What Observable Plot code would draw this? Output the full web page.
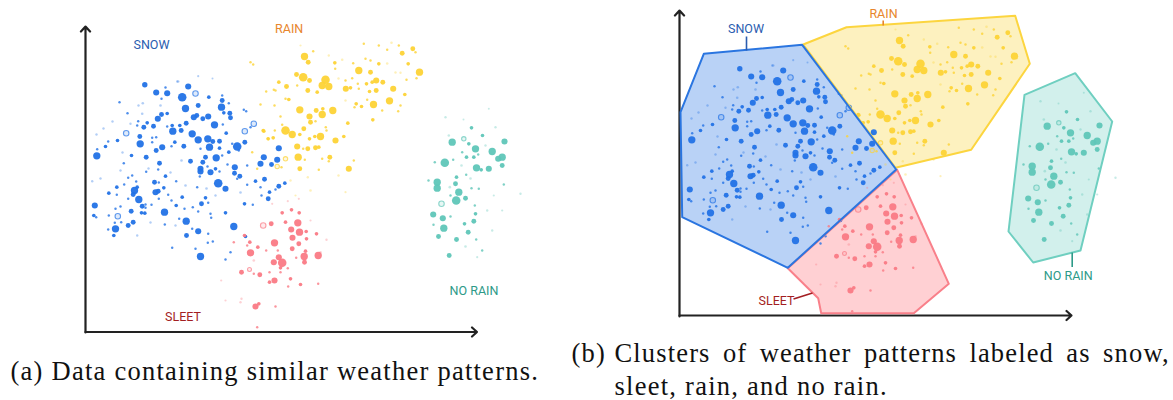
<!DOCTYPE html>
<html><head><meta charset="utf-8">
<script src="https://cdn.jsdelivr.net/npm/d3@7"></script>
<script src="https://cdn.jsdelivr.net/npm/@observablehq/plot@0.6"></script>
<style>
html,body{margin:0;padding:0;background:#fff}
.cap text{letter-spacing:1.25px}
.capb text{word-spacing:4.6px;letter-spacing:1.15px}
</style></head><body><div id="c"></div>
<script>
// [x, y, magnitude]: magnitude below 1 = faint specks
const snow = [[155.7,92,2.5],[166.7,92.7,2.5],[181.7,96.7,3.5],[187.7,86,2.5],[185,108,3],[119,101.7,1],[127,112.7,1],[161,114,2],[157.3,118.3,2.5],[166.7,113,1.5],[143.3,126.7,2],[153,125.7,2],[137.7,120.7,1],[146.7,122.3,1.5],[117,140,1.5],[107.7,141,1],[96.7,148.7,1],[105,146,1.5],[96.3,155.3,3],[139.7,143.3,3],[139.3,136,2],[151.7,137.3,1],[151.7,141.7,1],[155.7,136.7,1],[161.7,146.7,2.5],[155.7,150,2],[172.3,130.7,3],[180.7,130,2],[166.7,126,1],[171.7,125,1.5],[179.3,125,1.5],[185.7,122.7,2],[174.3,141.7,1.5],[183.3,145.7,2],[171,145.7,1],[191.7,133.3,3],[193.3,116.7,2.5],[190,160.7,2],[159,162.7,2],[145.7,156.7,2],[131,155,1.5],[123.3,162.7,1],[157.7,169,1],[142.3,102.7,.9],[138,105,.8],[160,105,.9],[141.7,113.3,.9],[130,123.3,.8],[136.7,125,1],[165,87,1],[161,98.3,1],[176.7,81,.8],[144.3,84.3,2.2],[177.7,81,.9],[197.7,75.7,.7],[212,78,.6],
[208.3,96.7,1.5],[221.7,95,1],[228.3,102.7,1],[221,106.7,3],[197.7,105,2],[196.3,115,2],[202.3,118.3,2],[207.7,116,2.5],[223.3,112.3,1.5],[229.3,112.7,2],[243.3,109.3,1],[245.7,110.7,1],[214,124.3,3],[222.3,124,1],[250,126.7,1],[197.7,139.3,3],[207.3,138.3,3],[212.3,141,2],[219,140.7,2],[225.7,132.7,1.5],[209,146.7,3],[236.7,146,3.5],[244.3,141.7,2],[231.7,143.3,1],[219,147.7,1.5],[200,148.3,1],[228.3,151.7,1.5],[215.7,157.3,3],[205,156.7,2],[202.3,161.7,2],[221.7,155,1],[238.3,150,1],[263.3,156.7,2.5],[278.3,147.7,2.5],[260,163.3,2.5],[271,164,2],[276.7,159.3,2.5],[234.3,166.7,2.5],[200,168.3,2.5],[215,168.3,1.5],[227,164,1],[246.7,165,1],[207,166,1],[230,117.3,2],[221.7,100,2],
[94.3,205,2.5],[93.3,215,1.5],[95.7,216.7,1],[108.3,192.7,1.5],[116.3,186.7,1.5],[116.3,194.3,1],[91.7,180.7,.8],[131.7,175,1],[127.7,177.3,1],[145.7,171.3,1],[165,175.7,1.5],[135.7,181,1],[123.7,184,1],[134,190,3],[132.7,194,2],[136.7,186.7,1.5],[138.3,199,3],[127.7,198.3,1],[154,181.7,2],[158.3,182,1],[163.3,187.3,1.5],[155,191.7,2.5],[157.7,190.7,2],[167.7,194.3,1],[158.3,198.3,1],[151,204.3,1],[141.7,205.7,2],[145,204,1],[145,207.3,1],[130.7,210.7,2],[141,212.3,1.5],[144.3,212.7,1.5],[164,211.7,3],[108.3,215,1],[115,208.3,1],[120,206,1],[120.7,221.7,1],[114.3,222.3,1],[132.7,221.7,2],[127.7,225,2],[115,228.3,3],[107.7,229,1],[113.3,235,1.5],[178.7,218.3,1],[185.7,220.7,3],[164.3,224,1],[186,235,2],[171.7,247.3,1],[175.7,180.7,1],[181.7,196.7,1.5],[171,200,1],[175.7,205,1.5],[184,208.3,1],[192.3,206.7,1],[191.7,228.3,1],[136.7,235,.8],[195,248.3,1],
[200,171,2.5],[210,171.7,2.5],[219,171,1],[234,172.7,2],[239.3,175.7,2],[199.3,176,1],[217.7,182.7,3.5],[225,188.3,2.5],[196.7,186.7,1],[236.7,178.3,1],[255,180.7,1.5],[264,178.7,2],[246.7,184.3,1],[260,186.7,1],[278.3,185.7,2],[284.3,182.7,1.5],[269,191.7,1.5],[275,189,1],[267.7,198.3,2],[261,195,1],[205,197.3,1.5],[201,203.3,2],[207.7,202.3,1],[197.7,211,1],[244,203.3,1.5],[252.3,204.3,1],[210,213.3,1],[210.7,217.3,1],[225,212.3,1.5],[233.3,226,3],[197.7,230.7,2.5],[207.7,233.3,1],[212.3,241,1],[207.3,242.3,1],[200,256,3],[230,251.7,1],[225,259,1],[245,236,1.5],[96,134,.8],[103,128,.8],[112,121,.8],[122,152,.8],[148,168,.8],[181,160,.9],[170,172,.8],[100,178,.8],[185,185,.9],[206,188,.9],[120,170,.8],[215,195,.8],[240,192,.9],[175,225,.8],[150,222,.8]];
const snowRings = [[125.7,132.7,2.5],[195,93,2.5],[117.3,215.7,2.5],[244.3,130.7,2.5],[253.3,123.3,2.5]];
const rain = [[304,56,3],[307.7,61.7,2],[312.7,50.7,1],[334.3,62.3,1.5],[334.7,68.3,1],[296,74,2],[302.7,76.7,3.5],[309,80,2],[325,79.3,3.5],[321.7,85,3],[328.3,86,3],[307.3,90,2],[316.7,91.7,1.5],[286,86,2],[278.3,81.7,1.5],[275,90,1],[288.3,99,1.5],[285,98.3,1],[260,104,1],[274,105,1],[299.3,109.3,3],[309,116,2.5],[315.7,110,2],[321.7,114,3],[322.3,108.3,1.5],[332.3,110,3],[285,130,3.5],[291.7,134,3],[303.3,128.3,2],[310,121.7,2],[315,120.7,1],[280,116,1],[281.7,124.3,1],[262.7,130,1.5],[272.7,137.3,1.5],[267.3,138.3,1],[299.3,134,1.5],[320,136,3],[314.3,136,1.5],[309,138.3,1.5],[326,130,1],[335,140,2.5],[343.3,136,1.5],[347.3,122.7,1.5],[307.3,148.3,2],[296.7,146,2.5],[315,147.3,2],[318.3,146.7,1.5],[302.7,148.3,1],[297.7,156.7,3],[329.3,156.7,2],[321.7,158.3,1],[304.3,159.3,1],[299.3,168.3,2],[348.3,168.3,2.5],[353.3,160,1],[328.3,160.7,1],[318.3,169.3,1],[307.3,176.7,.8],[310,190,.9],[345,191.7,.7],[325.3,126.7,1],
[363.3,43.3,1],[378.3,45,1],[391,42.3,.9],[398.3,45,1],[412.3,48.3,2],[401.7,52.7,2],[415,51.7,1],[386.7,49.3,1],[352.7,62.7,1],[365,58.3,1],[370,60,1],[378.3,63.3,1.5],[358.3,70,3],[370,71.7,2],[407.7,63.3,1.5],[419,71.7,3],[416,77.7,1],[406,79.3,1],[345,80,1],[345.3,88.3,2.5],[351.7,77.7,1],[350,87.3,1.5],[357.3,83.3,1],[366,83.3,1.5],[375.7,80,2.5],[371.7,81.7,1.5],[382.3,81.7,2],[392.7,88.3,2.5],[375.7,90,2],[369,91,1.5],[358.3,88.3,1],[404.3,94,1.5],[366.7,99.3,1],[389,100.3,3],[373,104,3],[354,106.7,1],[355.7,103.3,1.5],[361,106,1.5],[381.7,110,1],[400,105,1],[397.7,110.7,1],[372.3,119.3,1.5],[250,61.7,1],[252.7,64,1],[328.3,55,.8],[341.7,59.3,.9],[386.7,63,.9],[400,72.3,.8],[273.3,89.3,1],[265.7,91,1],[296.7,85,1],[263.3,130.7,1.5],[274.3,130,1],[267.7,138.3,1.5],[251.7,151.7,1],[256.7,168.3,1],[281,166.7,1],[295,195,.7],[290,180,.8],[338,175,.8],[300,45,.7],[345,100,.8],[338,78,.8],[395,72,.8]];
const rainRings = [[276.7,166,2],[285,158.3,2]];
const sleet = [[297.3,222.3,3],[299,231.7,3],[290.7,229,2.5],[270.7,223.3,2],[285,221.7,1.5],[281.7,212.3,1.5],[291,209.3,1.5],[298.7,212.3,1.5],[305.7,231,1.5],[316,233.3,1.5],[292,237.3,2.5],[306,238.3,1.5],[298.3,243.3,2],[274,242.3,3],[249.3,241.7,1.5],[244,235,1.5],[233.3,241.7,1],[250,252.3,3],[257.3,246.7,1.5],[265.7,250,1],[246.7,245,1],[277.3,250,1],[291.7,248.3,2],[305,250.7,1.5],[303.7,256,3],[317.7,255,3],[304,261.7,2],[281.7,262.3,3.5],[278.3,256.7,2.5],[273.3,261.7,2.5],[253.3,260,.95],[295.7,257.3,1],[280,267.3,1.5],[287.3,267.7,1],[241,271.7,2],[259.3,274.3,2],[253.3,273.3,1],[269,271.7,1],[274,280,2.5],[269,281.7,1.5],[290,278.3,1.5],[280,271.7,1],[300,284,1.5],[317.7,283.3,1],[287.7,286,1],[255,306,2.5],[258.3,303.3,1.5],[275,306,1],[241,298.3,.8],[240,301.7,.8],[256.7,326.7,1],[220.7,280,.7],[225,300,.7],[326,239.3,.8],[310,220,.7],[320,251.7,.9],[287.3,200.7,.7],[271.7,203.3,.7],[298.3,198.3,.7]];
const sleetRings = [[249,269,1.8],[262.7,225,2.5]];
const noRain = [[448.7,255,2],[451.7,141.7,3],[471,127.3,1.5],[482,135,1.5],[444.3,162.3,3.5],[434.3,161.7,1],[428,180,1],[436.7,181.7,3],[436.7,187.7,3],[455.7,200,3.5],[458.3,191.7,3],[465,197.7,2],[455,183.3,2],[456,176.7,1.5],[461.7,151.7,1],[468.3,143.3,1.5],[475,148.3,3],[477.7,154,1],[473.3,156.7,1.5],[491.7,151,3],[504,141,2.5],[501.7,156.7,3],[497.7,158.3,2.5],[501.7,165,2],[488.3,168.3,2.5],[476,167.3,3],[480.7,169.3,1.5],[466,156.7,1.5],[452.7,159.3,1],[465.7,174.3,1],[471,187.7,1],[478.3,188.3,1],[450,195,1],[474.3,205,1],[475,213.3,1.5],[432.7,214,2.5],[442.3,217.7,2.5],[450,216,1],[443.3,227.7,3],[433,224.3,1],[464,223.3,1.5],[473.3,220.7,2],[467.7,231.7,2],[438,236,2],[456,239,2],[475.7,239,1],[465,246,.9],[481.7,250,1],[503.3,184,1],[486.7,210,.8],[491.7,230,.8],[495,126.7,.8],[445,116.7,.8],[448.3,135,.9],[488.3,108.3,.6],[493.3,195,.7],[501.7,210,.7],[520,193.3,.8],[476.7,256.7,.7],[449.3,186.7,.95],[463,119,.6],[485,145,.8],[461,165,.9],[470,178,.9]];
const noRainRings = [[441,203.3,2.5],[463.3,138.3,2]];

const series = [
  ["SNOW", snow, snowRings, "#2272e6", "#2a75e0", "#b9d2f6", "#2a5db0"],
  ["RAIN", rain, rainRings, "#fdd336", "#fcd53f", "#fdf1bf", "#e8862c"],
  ["SLEET", sleet, sleetRings, "#fa7a85", "#f9808a", "#ffd0d3", "#a31e22"],
  ["NO RAIN", noRain, noRainRings, "#5fc6b8", "#6fcfc0", "#d2f0ec", "#2d9a88"]
];
// cluster outlines in panel (b)
const hulls = {
  "SLEET": [[896.7,169.3],[948.3,283.3],[913.3,312.7],[820.7,312.7],[817.7,297.7],[787.3,267.7]],
  "NO RAIN": [[1074.7,72.7],[1111.7,121],[1080,250],[1032.7,262],[1008,231],[1024,94.3]],
  "RAIN": [[802.7,44],[846,26.7],[1014.7,15.3],[1029.3,63.3],[970.7,149.3],[895,167.3]],
  "SNOW": [[703.3,53.3],[801.7,44.3],[895.7,169],[787.3,267.3],[681.7,216.7],[680,111.7]]
};
const leaders = [["SNOW",746,36,746,50],["RAIN",882.7,20,882.7,25],["NO RAIN",1071.7,252,1071.7,266.5],["SLEET",793,298.5,812,292.5]];
const labels = [["SNOW",151,44.5],["RAIN",288.7,28.5],["SLEET",182.5,316],["NO RAIN",473.5,290.5],["SNOW",745.5,28.5],["RAIN",883,13],["SLEET",776,300],["NO RAIN",1067.7,275]];
const axes = [[85,332,85,26],[85,331.5,476.5,331.5],[679,316,679,10],[679,315,1071,315]];
const captionA = [["(a) Data containing similar weather patterns.",10,371]];
const captionB = [["(b)",571,353],["sleet, rain, and no rain.",614,386]];
const captionB1 = [["Clusters of weather patterns labeled as snow,",614,353]];
const panelBShift = [595,-16];

const colorOf = Object.fromEntries(series.map(s=>[s[0],s]));
const size = m => (m<1 ? m+.4 : m*1.22);
const dotMarks = [];
for (const [name,pts,rings,col] of series) {
  for (const [dx,dy] of [[0,0],panelBShift]) {
    dotMarks.push(Plot.dot(rings,{x:d=>d[0]+dx,y:d=>d[1]+dy,r:d=>d[2]*1.1,stroke:col,strokeWidth:1.1,strokeOpacity:.7,fill:col,fillOpacity:.15}));
    dotMarks.push(Plot.dot(pts,{x:d=>d[0]+dx,y:d=>d[1]+dy,r:d=>size(d[2]),fill:col,fillOpacity:d=>d[2]<1?.35:(d[2]<1.3?.8:.95),stroke:"none"}));
  }
}
const capStyle = {fontFamily:"Liberation Serif",fontSize:26.5,textAnchor:"start",fill:"#111"};
const chart = Plot.plot({
  width:1173,height:400,margin:0,
  x:{domain:[0,1173],range:[0,1173],axis:null},
  y:{domain:[0,400],range:[0,400],axis:null},
  r:{type:"identity"},opacity:{type:"identity"},
  style:{background:"#fff"},
  marks:[
    Plot.arrow(axes,{x1:d=>d[0],y1:d=>d[1],x2:d=>d[2],y2:d=>d[3],stroke:"#222",strokeWidth:2.2,headAngle:85,headLength:4.6}),
    ...Object.keys(hulls).map(k=>Plot.line([...hulls[k],hulls[k][0]],{x:d=>d[0],y:d=>d[1],stroke:"none",fill:colorOf[k][5]})),
    ...dotMarks,
    ...Object.keys(hulls).map(k=>Plot.line([...hulls[k],hulls[k][0]],{x:d=>d[0],y:d=>d[1],stroke:colorOf[k][4],strokeWidth:2,strokeLinejoin:"round"})),
    Plot.link(leaders,{x1:d=>d[1],y1:d=>d[2],x2:d=>d[3],y2:d=>d[4],stroke:d=>colorOf[d[0]][6],strokeWidth:1.6}),
    Plot.text(labels,{x:d=>d[1],y:d=>d[2],text:d=>d[0],fill:d=>colorOf[d[0]][6],fontFamily:"Roboto",fontSize:12.5,textAnchor:"middle"}),
    Plot.text(captionA,{x:d=>d[1],y:d=>d[2],text:d=>d[0],className:"cap",...capStyle}),
    Plot.text(captionB,{x:d=>d[1],y:d=>d[2],text:d=>d[0],className:"cap",...capStyle}),
    Plot.text(captionB1,{x:d=>d[1],y:d=>d[2],text:d=>d[0],className:"capb",...capStyle})
  ]
});
document.getElementById("c").appendChild(chart);
</script></body></html>
